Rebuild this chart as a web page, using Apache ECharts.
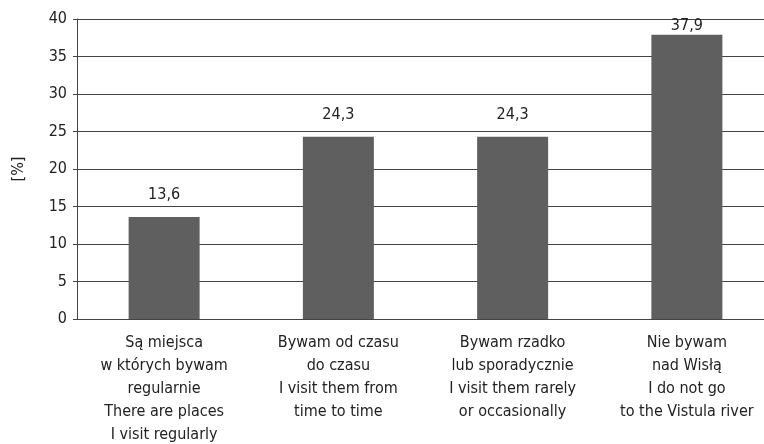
<!DOCTYPE html>
<html><head><meta charset="utf-8">
<script src="https://cdn.jsdelivr.net/npm/echarts@6/dist/echarts.min.js"></script>
<style>html,body{margin:0;padding:0;background:#fff}#c{width:764px;height:444px}</style>
</head><body><div id="c"></div>
<script>
const categories = [
  "Są miejsca\nw których bywam\nregularnie\nThere are places\nI visit regularly",
  "Bywam od czasu\ndo czasu\nI visit them from\ntime to time",
  "Bywam rzadko\nlub sporadycznie\nI visit them rarely\nor occasionally",
  "Nie bywam\nnad Wisłą\nI do not go\nto the Vistula river"
];
const values = [13.6, 24.3, 24.3, 37.9];
const yTicks = [0, 5, 10, 15, 20, 25, 30, 35, 40];

const FONT = '"Liberation Sans Narrow", "Arial Narrow", "DejaVu Sans Condensed", sans-serif';
const chart = echarts.init(document.getElementById('c'), null, {renderer: 'canvas'});
const data = values.map((v, i) => ({
  value: v,
  label: i === values.length - 1 ? {distance: 1} : {}
}));
chart.setOption({
  animation: false,
  grid: {left: 77, right: -10, top: 19, bottom: 125, containLabel: false, outerBoundsMode: 'none'},
  xAxis: {
    type: 'category', data: categories,
    axisLine: {lineStyle: {color: '#444', width: 1}},
    axisTick: {show: false},
    axisLabel: {fontFamily: FONT, fontSize: 16, color: '#222', lineHeight: 23, margin: 12, interval: 0}
  },
  yAxis: {
    type: 'value', min: yTicks[0], max: yTicks[yTicks.length - 1], interval: 5,
    name: '[%]', nameLocation: 'middle', nameGap: 50, nameRotate: 90,
    nameTextStyle: {fontFamily: FONT, fontSize: 16, color: '#222'},
    axisLine: {show: true, lineStyle: {color: '#444', width: 1}},
    axisTick: {show: true, length: 4, inside: false, lineStyle: {color: '#444'}},
    axisLabel: {fontFamily: FONT, fontSize: 16, color: '#222', margin: 10,
      formatter: v => String(v)},
    splitLine: {show: true, lineStyle: {color: '#444', width: 1}}
  },
  series: [{
    type: 'bar', data: data, barWidth: 71,
    itemStyle: {color: '#5f5f60'},
    label: {show: true, position: 'top', distance: 14, fontFamily: FONT, fontSize: 16, color: '#222',
      formatter: p => String(p.value).replace('.', ',')}
  }]
});
</script></body></html>
